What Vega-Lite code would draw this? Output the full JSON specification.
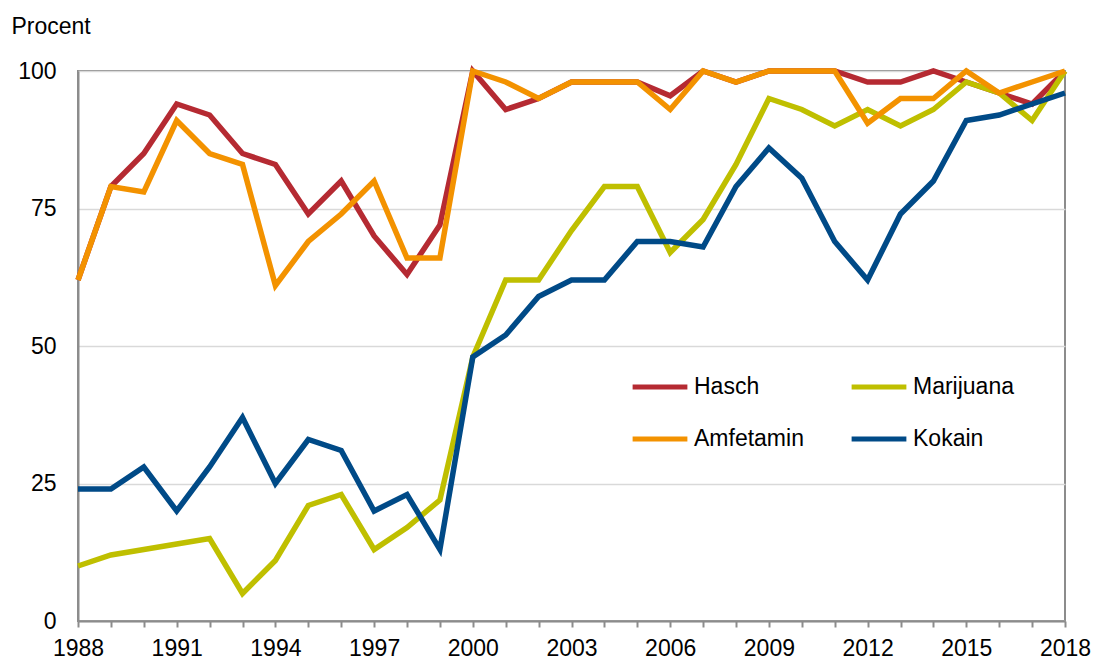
{
  "$schema": "https://vega.github.io/schema/vega-lite/v6.json",
  "width": 987,
  "height": 550,
  "autosize": {"type": "none"},
  "padding": {"left": 78, "top": 71, "right": 29, "bottom": 39},
  "background": "white",
  "config": {
    "view": {"stroke": "#8c8c8c", "strokeWidth": 2},
    "font": "Liberation Sans"
  },
  "data": {
    "values": [
      {"year": 1988, "drug": "Hasch", "value": 62},
      {"year": 1989, "drug": "Hasch", "value": 79},
      {"year": 1990, "drug": "Hasch", "value": 85},
      {"year": 1991, "drug": "Hasch", "value": 94},
      {"year": 1992, "drug": "Hasch", "value": 92},
      {"year": 1993, "drug": "Hasch", "value": 85},
      {"year": 1994, "drug": "Hasch", "value": 83},
      {"year": 1995, "drug": "Hasch", "value": 74},
      {"year": 1996, "drug": "Hasch", "value": 80},
      {"year": 1997, "drug": "Hasch", "value": 70},
      {"year": 1998, "drug": "Hasch", "value": 63},
      {"year": 1999, "drug": "Hasch", "value": 72},
      {"year": 2000, "drug": "Hasch", "value": 100},
      {"year": 2001, "drug": "Hasch", "value": 93},
      {"year": 2002, "drug": "Hasch", "value": 95},
      {"year": 2003, "drug": "Hasch", "value": 98},
      {"year": 2004, "drug": "Hasch", "value": 98},
      {"year": 2005, "drug": "Hasch", "value": 98},
      {"year": 2006, "drug": "Hasch", "value": 95.5},
      {"year": 2007, "drug": "Hasch", "value": 100},
      {"year": 2008, "drug": "Hasch", "value": 98},
      {"year": 2009, "drug": "Hasch", "value": 100},
      {"year": 2010, "drug": "Hasch", "value": 100},
      {"year": 2011, "drug": "Hasch", "value": 100},
      {"year": 2012, "drug": "Hasch", "value": 98},
      {"year": 2013, "drug": "Hasch", "value": 98},
      {"year": 2014, "drug": "Hasch", "value": 100},
      {"year": 2015, "drug": "Hasch", "value": 98},
      {"year": 2016, "drug": "Hasch", "value": 96},
      {"year": 2017, "drug": "Hasch", "value": 94},
      {"year": 2018, "drug": "Hasch", "value": 100},

      {"year": 1988, "drug": "Marijuana", "value": 10},
      {"year": 1989, "drug": "Marijuana", "value": 12},
      {"year": 1990, "drug": "Marijuana", "value": 13},
      {"year": 1991, "drug": "Marijuana", "value": 14},
      {"year": 1992, "drug": "Marijuana", "value": 15},
      {"year": 1993, "drug": "Marijuana", "value": 5},
      {"year": 1994, "drug": "Marijuana", "value": 11},
      {"year": 1995, "drug": "Marijuana", "value": 21},
      {"year": 1996, "drug": "Marijuana", "value": 23},
      {"year": 1997, "drug": "Marijuana", "value": 13},
      {"year": 1998, "drug": "Marijuana", "value": 17},
      {"year": 1999, "drug": "Marijuana", "value": 22},
      {"year": 2000, "drug": "Marijuana", "value": 48},
      {"year": 2001, "drug": "Marijuana", "value": 62},
      {"year": 2002, "drug": "Marijuana", "value": 62},
      {"year": 2003, "drug": "Marijuana", "value": 71},
      {"year": 2004, "drug": "Marijuana", "value": 79},
      {"year": 2005, "drug": "Marijuana", "value": 79},
      {"year": 2006, "drug": "Marijuana", "value": 67},
      {"year": 2007, "drug": "Marijuana", "value": 73},
      {"year": 2008, "drug": "Marijuana", "value": 83},
      {"year": 2009, "drug": "Marijuana", "value": 95},
      {"year": 2010, "drug": "Marijuana", "value": 93},
      {"year": 2011, "drug": "Marijuana", "value": 90},
      {"year": 2012, "drug": "Marijuana", "value": 93},
      {"year": 2013, "drug": "Marijuana", "value": 90},
      {"year": 2014, "drug": "Marijuana", "value": 93},
      {"year": 2015, "drug": "Marijuana", "value": 98},
      {"year": 2016, "drug": "Marijuana", "value": 96},
      {"year": 2017, "drug": "Marijuana", "value": 91},
      {"year": 2018, "drug": "Marijuana", "value": 100},

      {"year": 1988, "drug": "Amfetamin", "value": 62},
      {"year": 1989, "drug": "Amfetamin", "value": 79},
      {"year": 1990, "drug": "Amfetamin", "value": 78},
      {"year": 1991, "drug": "Amfetamin", "value": 91},
      {"year": 1992, "drug": "Amfetamin", "value": 85},
      {"year": 1993, "drug": "Amfetamin", "value": 83},
      {"year": 1994, "drug": "Amfetamin", "value": 61},
      {"year": 1995, "drug": "Amfetamin", "value": 69},
      {"year": 1996, "drug": "Amfetamin", "value": 74},
      {"year": 1997, "drug": "Amfetamin", "value": 80},
      {"year": 1998, "drug": "Amfetamin", "value": 66},
      {"year": 1999, "drug": "Amfetamin", "value": 66},
      {"year": 2000, "drug": "Amfetamin", "value": 100},
      {"year": 2001, "drug": "Amfetamin", "value": 98},
      {"year": 2002, "drug": "Amfetamin", "value": 95},
      {"year": 2003, "drug": "Amfetamin", "value": 98},
      {"year": 2004, "drug": "Amfetamin", "value": 98},
      {"year": 2005, "drug": "Amfetamin", "value": 98},
      {"year": 2006, "drug": "Amfetamin", "value": 93},
      {"year": 2007, "drug": "Amfetamin", "value": 100},
      {"year": 2008, "drug": "Amfetamin", "value": 98},
      {"year": 2009, "drug": "Amfetamin", "value": 100},
      {"year": 2010, "drug": "Amfetamin", "value": 100},
      {"year": 2011, "drug": "Amfetamin", "value": 100},
      {"year": 2012, "drug": "Amfetamin", "value": 90.5},
      {"year": 2013, "drug": "Amfetamin", "value": 95},
      {"year": 2014, "drug": "Amfetamin", "value": 95},
      {"year": 2015, "drug": "Amfetamin", "value": 100},
      {"year": 2016, "drug": "Amfetamin", "value": 96},
      {"year": 2017, "drug": "Amfetamin", "value": 98},
      {"year": 2018, "drug": "Amfetamin", "value": 100},

      {"year": 1988, "drug": "Kokain", "value": 24},
      {"year": 1989, "drug": "Kokain", "value": 24},
      {"year": 1990, "drug": "Kokain", "value": 28},
      {"year": 1991, "drug": "Kokain", "value": 20},
      {"year": 1992, "drug": "Kokain", "value": 28},
      {"year": 1993, "drug": "Kokain", "value": 37},
      {"year": 1994, "drug": "Kokain", "value": 25},
      {"year": 1995, "drug": "Kokain", "value": 33},
      {"year": 1996, "drug": "Kokain", "value": 31},
      {"year": 1997, "drug": "Kokain", "value": 20},
      {"year": 1998, "drug": "Kokain", "value": 23},
      {"year": 1999, "drug": "Kokain", "value": 13},
      {"year": 2000, "drug": "Kokain", "value": 48},
      {"year": 2001, "drug": "Kokain", "value": 52},
      {"year": 2002, "drug": "Kokain", "value": 59},
      {"year": 2003, "drug": "Kokain", "value": 62},
      {"year": 2004, "drug": "Kokain", "value": 62},
      {"year": 2005, "drug": "Kokain", "value": 69},
      {"year": 2006, "drug": "Kokain", "value": 69},
      {"year": 2007, "drug": "Kokain", "value": 68},
      {"year": 2008, "drug": "Kokain", "value": 79},
      {"year": 2009, "drug": "Kokain", "value": 86},
      {"year": 2010, "drug": "Kokain", "value": 80.5},
      {"year": 2011, "drug": "Kokain", "value": 69},
      {"year": 2012, "drug": "Kokain", "value": 62},
      {"year": 2013, "drug": "Kokain", "value": 74},
      {"year": 2014, "drug": "Kokain", "value": 80},
      {"year": 2015, "drug": "Kokain", "value": 91},
      {"year": 2016, "drug": "Kokain", "value": 92},
      {"year": 2017, "drug": "Kokain", "value": 94},
      {"year": 2018, "drug": "Kokain", "value": 96}
    ]
  },
  "mark": {"type": "line", "strokeWidth": 5.5, "strokeJoin": "miter", "clip": false},
  "encoding": {
    "x": {
      "field": "year",
      "type": "quantitative",
      "scale": {"domain": [1988, 2018], "nice": false, "zero": false},
      "axis": {
        "title": null,
        "values": [1988,1989,1990,1991,1992,1993,1994,1995,1996,1997,1998,1999,2000,2001,2002,2003,2004,2005,2006,2007,2008,2009,2010,2011,2012,2013,2014,2015,2016,2017,2018],
        "labelExpr": "(datum.value - 1988) % 3 == 0 ? datum.value : ''",
        "format": "d",
        "grid": false,
        "domainColor": "#8c8c8c",
        "domainWidth": 2,
        "tickColor": "#8c8c8c",
        "tickWidth": 2,
        "tickSize": 6,
        "labelFontSize": 23,
        "labelColor": "#000000",
        "labelPadding": 10,
        "labelFlush": false,
        "labelOverlap": false
      }
    },
    "y": {
      "field": "value",
      "type": "quantitative",
      "scale": {"domain": [0, 100], "nice": false},
      "axis": {
        "values": [0, 25, 50, 75, 100],
        "title": "Procent",
        "titleAngle": 0,
        "titleAlign": "left",
        "titleBaseline": "alphabetic",
        "titleX": -67,
        "titleY": -38,
        "titleFontSize": 23,
        "titleFontWeight": "normal",
        "titleColor": "#000000",
        "grid": true,
        "gridColor": "#d9d9d9",
        "gridWidth": 1.5,
        "ticks": false,
        "domainColor": "#8c8c8c",
        "domainWidth": 2,
        "labelFontSize": 23,
        "labelColor": "#000000",
        "labelPadding": 22
      }
    },
    "color": {
      "field": "drug",
      "type": "nominal",
      "scale": {
        "domain": ["Hasch", "Amfetamin", "Marijuana", "Kokain"],
        "range": ["#b52a32", "#f39200", "#bfbf00", "#004a87"]
      },
      "legend": {
        "title": null,
        "orient": "none",
        "legendX": 552,
        "legendY": 286,
        "columns": 2,
        "columnPadding": 37,
        "rowPadding": 10,
        "padding": 0,
        "symbolType": "stroke",
        "symbolSize": 3000,
        "symbolStrokeWidth": 5,
        "labelFontSize": 23,
        "labelColor": "#000000",
        "labelOffset": 4,
        "labelLimit": 300
      }
    }
  }
}
